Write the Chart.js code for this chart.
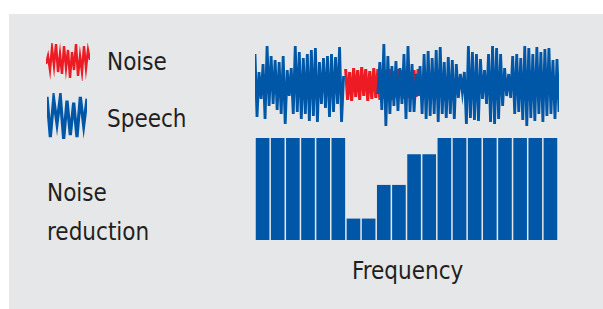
<!DOCTYPE html>
<html>
<head>
<meta charset="utf-8">
<script src="https://cdn.jsdelivr.net/npm/chart.js@4"></script>
<style>
  html, body { margin: 0; padding: 0; background: #fff; }
  body { width: 603px; height: 309px; position: relative; overflow: hidden; }
  #panel { position: absolute; left: 9px; top: 14px; right: 0; bottom: 0; background: #e6e7e8; }
  canvas { position: absolute; }
  .lbl { position: absolute; font-family: "Liberation Sans Narrow", "DejaVu Sans Condensed", "Open Sans", sans-serif; font-size: 24px; color: #231f20; white-space: nowrap; line-height: 1; }
</style>
</head>
<body>
<div id="panel"></div>
<canvas id="iconNoise" width="44" height="38" style="left:46px;top:43px"></canvas>
<canvas id="iconSpeech" width="40" height="46" style="left:47px;top:93px"></canvas>
<canvas id="wave" width="304" height="88" style="left:255px;top:40px"></canvas>
<canvas id="bars" width="303" height="102" style="left:255px;top:138px"></canvas>
<div class="lbl" style="left:107px;top:50px">Noise</div>
<div class="lbl" style="left:107px;top:107px">Speech</div>
<div class="lbl" style="left:47px;top:181px">Noise</div>
<div class="lbl" style="left:47px;top:220px">reduction</div>
<div class="lbl" style="left:352px;top:259px">Frequency</div>
<script>
const blue = "#0057a8";
const red = "#ed1c24";

// waveform samples (speech, gap where only noise is heard)
const speechWave = [
  30, -33, 12, -15, 20, -35, 38, -22, 28, -20, 24, -26, 22, -30, 28, -40,
  14, -12, 16, -30, 38, -28, 32, -35, 26, -30, 30, -37, 34, -32, 36, -38,
  22, -20, 26, -24, 28, -33, 30, -28, 27, -20, 37, -38, 8,
  null, null, null, null, null, null, null, null, null, null, null, null, null, null, null, null,
  -10, 22, -26, 40, -42, 28, -30, 18, -22, 23, -27, 16, -20, 30, -35, 38,
  -28, 20, -28, 10, -12, 18, -30, 30, -35, 33, -32, 26, -30, 34, -38, 37,
  -30, 22, -34, 27, -30, 24, -35, 20, -14, 10, -8, 12, -40, 38, -34, 32,
  -36, 30, -37, 25, -15, 14, -20, 30, -38, 38, -40, 36, -35, 30, -22, 16,
  -12, 10, -14, 28, -30, 30, -28, 26, -36, 38, -42, 36, -34, 30, -37, 37,
  -30, 32, -38, 35, -32, 36, -30, 24, -35, 25, -28
];
const noiseStart = 45;
const noiseWave = [
  15, -16, 12, -17, 16, -13, 14, -16, 17, -12, 15, -17, 13, -15, 16, -14,
  15, -16, 12, -15, 14, -13, 15, -16, 13, -14, 15, -12, 14, -15, 13, -14,
  12, -15, 14, -13, 15, -12
];

// noise reduction per frequency band
const bands = ["1","2","3","4","5","6","7","8","9","10","11","12","13","14","15","16","17","18","19","20"];
const reduction = [100, 100, 100, 100, 100, 100, 21, 21, 54, 54, 84, 84, 100, 100, 100, 100, 100, 100, 100, 100];

// legend icons
const iconNoiseWave = [-2, 6, -8, 14, -4, 18, -10, 8, -12, 16, -6, 12, -16, 10, -8, 18, -14, 6, -10, 16, -6, 12, 2];
const iconSpeechWave = [20, -22, 18, -8, 20, -24, 16, -20, 14, -22, 20, -10, 18];

const hidden = { display: false };
const base = {
  responsive: false, animation: false, events: [],
  layout: { padding: 0 },
  plugins: { legend: { display: false }, tooltip: { enabled: false } },
  elements: { point: { radius: 0 } }
};

function miniWave(id, values, color, width, lim) {
  new Chart(document.getElementById(id), {
    type: "line",
    data: {
      labels: values.map((_, i) => i),
      datasets: [{ data: values, borderColor: color, borderWidth: width, tension: 0 }]
    },
    options: { ...base, scales: { x: hidden, y: { display: false, min: -lim, max: lim } } }
  });
}
miniWave("iconNoise", iconNoiseWave, red, 2.4, 19);
miniWave("iconSpeech", iconSpeechWave, blue, 3.2, 24);

new Chart(document.getElementById("wave"), {
  type: "line",
  data: {
    datasets: [
      { data: speechWave.map((v, i) => ({ x: i, y: v })), borderColor: blue, borderWidth: 2.8, order: 0, spanGaps: false },
      { data: noiseWave.map((v, i) => ({ x: noiseStart + i, y: v })), borderColor: red, borderWidth: 3, order: 1 }
    ]
  },
  options: {
    ...base,
    scales: {
      x: { type: "linear", display: false, min: 0, max: speechWave.length - 1 },
      y: { display: false, min: -44, max: 44 }
    }
  }
});

new Chart(document.getElementById("bars"), {
  type: "bar",
  data: {
    labels: bands,
    datasets: [{ data: reduction, backgroundColor: blue, barPercentage: 0.9, categoryPercentage: 1 }]
  },
  options: { ...base, scales: { x: hidden, y: { display: false, min: 0, max: 100 } } }
});
</script>
</body>
</html>
